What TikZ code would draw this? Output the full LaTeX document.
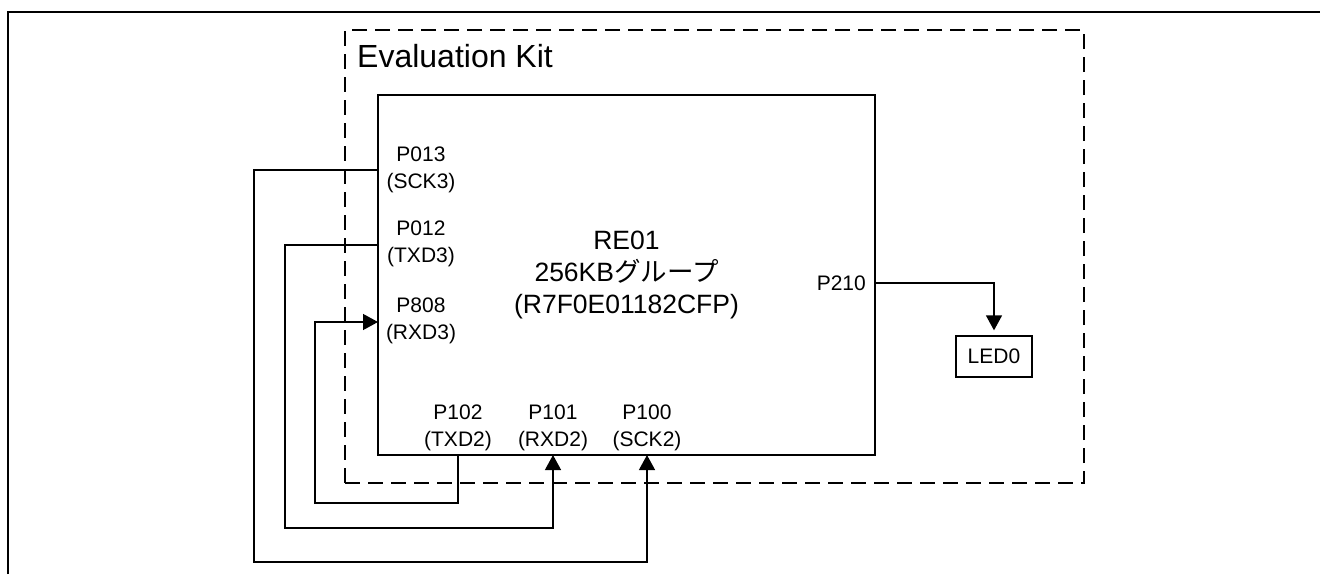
\documentclass[tikz,border=0pt]{standalone}
\usepackage{fontspec}
\setmainfont{Liberation Sans}
\newfontfamily\jpfont{Noto Sans CJK JP}
\usepackage{tikz}
\usetikzlibrary{arrows.meta, positioning, calc}
\definecolor{ink}{HTML}{000000}

\begin{document}
\begin{tikzpicture}[
  x=1pt, y=-1pt,
  every node/.style={color=ink, inner sep=0pt},
  chip/.style={
    rectangle, draw=ink, line width=1.3pt,
    minimum width=497pt, minimum height=360pt,
    align=center, font=\fontsize{26.5}{32}\selectfont
  },
  kitFrame/.style={
    rectangle, draw=ink, line width=1.3pt,
    dash pattern=on 15pt off 8pt,
    minimum width=739pt, minimum height=453pt
  },
  ledBox/.style={
    rectangle, draw=ink, line width=1.3pt,
    minimum width=76pt, minimum height=41pt,
    font=\fontsize{21}{27}\selectfont
  },
  pinLabel/.style={font=\fontsize{21}{27}\selectfont, align=center},
  kitLabel/.style={font=\fontsize{32}{38}\selectfont, anchor=base west},
  wire/.style={draw=ink, line width=1.3pt},
  arr/.style={wire, -{Triangle[length=15pt, width=16pt]}}
]
\useasboundingbox (0,0) rectangle (1320,574);

% --- Outer frame (only top and left edge shown) ---
\draw[ink, line width=2pt] (8,574) -- (8,12) -- (1320,12);

% --- Evaluation kit and MCU ---
\node[kitFrame] (kit) at (714.5,256.5) {};
\node[kitLabel] (kitName) at (357,67) {Evaluation Kit};

\node[chip] (mcu) at (626.5,275) {RE01\\256KB{\jpfont グループ}\\(R7F0E01182CFP)};

\node[ledBox] (led) at (994,356.5) {LED0};

% --- Pin points on the MCU border ---
\coordinate (p013) at (378,170);
\coordinate (p012) at (378,245);
\coordinate (p808) at (378,322);
\coordinate (p102) at (458,455);
\coordinate (p101) at (553,455);
\coordinate (p100) at (647,455);
\coordinate (p210) at (875,283);

% --- Pin labels ---
\node[pinLabel] (l013) at (421,169.5) {P013\\(SCK3)};
\node[pinLabel] (l012) at (421,244) {P012\\(TXD3)};
\node[pinLabel] (l808) at (421,320.5) {P808\\(RXD3)};
\node[pinLabel] (l102) at (458,427.5) {P102\\(TXD2)};
\node[pinLabel] (l101) at (553,427.5) {P101\\(RXD2)};
\node[pinLabel] (l100) at (647,427.5) {P100\\(SCK2)};
\node[pinLabel, anchor=east] (l210) at (866,283) {P210};

% --- Loop-back wires ---
\draw[arr] (p013) -| (254,562) -| (p100);
\draw[arr] (p012) -| (285,528) -| (p101);
\draw[arr] (p102) |- (315,503) |- (p808);
\draw[arr, shorten >=5pt] (p210) -| (led.north);

\end{tikzpicture}
\end{document}
